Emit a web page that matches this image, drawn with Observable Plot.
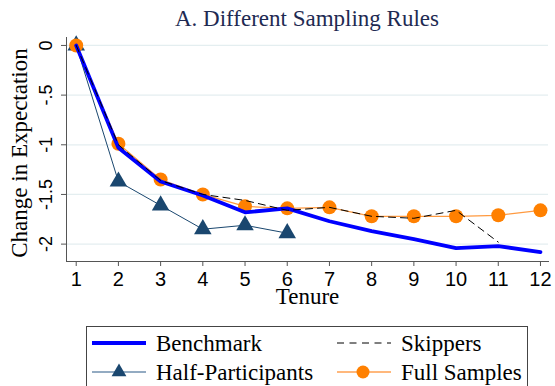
<!DOCTYPE html>
<html><head><meta charset="utf-8">
<script src="https://cdn.jsdelivr.net/npm/d3@7"></script>
<script src="https://cdn.jsdelivr.net/npm/@observablehq/plot@0.6"></script>
<style>
body{margin:0;background:#fff;width:555px;height:386px;overflow:hidden;position:relative;font-family:"Liberation Serif","Times New Roman",serif}
#title{position:absolute;top:7px;left:57px;width:500px;text-align:center;font-size:23px;line-height:23px;color:#1e2a52;z-index:2;white-space:nowrap}
#chart{position:absolute;top:0;left:0;z-index:1}
#legend{position:absolute;top:326px;left:86px;z-index:2}
</style></head>
<body>
<div id="title">A. Different Sampling Rules</div>
<div id="chart"></div>
<div id="legend"></div>
<script>
const tenure = [1,2,3,4,5,6,7,8,9,10,11,12];
const benchmark = [0,-1.03,-1.37,-1.51,-1.68,-1.64,-1.77,-1.87,-1.95,-2.04,-2.02,-2.08];
const skippers = [0,-1.0,-1.36,-1.50,-1.56,-1.66,-1.63,-1.72,-1.74,-1.66,-1.98];
const halfParticipants = [0,-1.37,-1.61,-1.85,-1.81,-1.89];
const fullSamples = [0,-0.99,-1.35,-1.50,-1.62,-1.64,-1.63,-1.72,-1.72,-1.72,-1.71,-1.66];
const xTicks = [1,2,3,4,5,6,7,8,9,10,11,12];
const yTicks = [0,-0.5,-1,-1.5,-2];
const yTickLabels = ["0","-.5","-1","-1.5","-2"];
const seriesNames = ["Benchmark","Skippers","Half-Participants","Full Samples"];

const toRows = (vals) => vals.map((v,i)=>({x: tenure[i], y: v}));
const bm = toRows(benchmark), sk = toRows(skippers), hp = toRows(halfParticipants), fs = toRows(fullSamples);
const navy = "#1a476f", orange = "#ff8000", blue = "#0000ff";
const serif = "Liberation Serif, Times New Roman, serif";

const chart = Plot.plot({
  width: 555, height: 310,
  marginTop: 37, marginBottom: 49, marginLeft: 66, marginRight: 7,
  x: {domain: [0.77, 12.19]},
  y: {domain: [-2.175, 0.08]},
  style: {fontFamily: "Liberation Sans, Arial, sans-serif", fontSize: "20px", color: "#000", background: "transparent"},
  marks: [
    Plot.gridY(yTicks, {stroke: "#e4eef0", strokeOpacity: 1, strokeWidth: 1.3}),
    Plot.frame({anchor: "left", stroke: "#555"}),
    Plot.frame({anchor: "bottom", stroke: "#555"}),
    Plot.axisX({ticks: xTicks, tickSize: 5, tickPadding: 5, label: null, stroke: "#555", fontSize: 20}),
    Plot.axisY({ticks: yTicks, tickSize: 5, tickFormat: () => "", label: null, stroke: "#555"}),
    Plot.text(yTicks, {y: d => d, text: (d,i) => yTickLabels[i], frameAnchor: "left", textAnchor: "middle", dx: -20, rotate: -90, fontSize: 18, fill: "#000"}),
    Plot.text(["Tenure"], {frameAnchor: "bottom", textAnchor: "middle", dy: 42, fontSize: 23, fontFamily: serif, fill: "#000"}),
    Plot.text(["Change in Expectation"], {frameAnchor: "left", textAnchor: "middle", dx: -47, dy: 3.5, rotate: -90, fontSize: 23, fontFamily: serif, fill: "#000"}),
    Plot.line(hp, {x: "x", y: "y", stroke: navy, strokeWidth: 1}),
    Plot.dot(hp, {x: "x", y: "y", symbol: "triangle", r: 6.5, fill: navy, stroke: "none"}),
    Plot.line(fs, {x: "x", y: "y", stroke: "#ff9a40", strokeWidth: 1.2}),
    Plot.dot(fs, {x: "x", y: "y", r: 7, fill: orange, stroke: "none"}),
    Plot.line(bm, {x: "x", y: "y", stroke: blue, strokeWidth: 3.8}),
    Plot.line(sk, {x: "x", y: "y", stroke: "#000", strokeWidth: 1, strokeDasharray: "7,5"})
  ]
});
document.getElementById("chart").appendChild(chart);

// legend (box continues below the picture edge, as in the reference)
const L = d3.select("#legend").append("svg").attr("width", 443).attr("height", 60);
L.append("rect").attr("x",0.5).attr("y",0.5).attr("width",441).attr("height",80).attr("fill","none").attr("stroke","#444");
const items = [
  {name: seriesNames[0], x: 6, y: 17, draw: g => g.append("line").attr("x1",0).attr("x2",54).attr("stroke",blue).attr("stroke-width",3.8)},
  {name: seriesNames[1], x: 251, y: 17, draw: g => g.append("line").attr("x1",0).attr("x2",54).attr("stroke","#000").attr("stroke-dasharray","7,5.5")},
  {name: seriesNames[2], x: 6, y: 46, draw: g => {g.append("line").attr("x1",0).attr("x2",54).attr("stroke","#6f8fae").attr("stroke-width",1.5); g.append("path").attr("d",d3.symbol(d3.symbolTriangle, 95)()).attr("transform","translate(27,0)").attr("fill",navy);}},
  {name: seriesNames[3], x: 251, y: 46, draw: g => {g.append("line").attr("x1",0).attr("x2",54).attr("stroke","#ffa050").attr("stroke-width",1.5); g.append("circle").attr("cx",26).attr("r",6.5).attr("fill",orange);}}
];
for (const it of items) {
  const g = L.append("g").attr("transform",`translate(${it.x},${it.y})`);
  it.draw(g);
  g.append("text").attr("x",64).attr("y",7.5).attr("font-size",23).attr("font-family",serif).text(it.name);
}
</script>
</body></html>
